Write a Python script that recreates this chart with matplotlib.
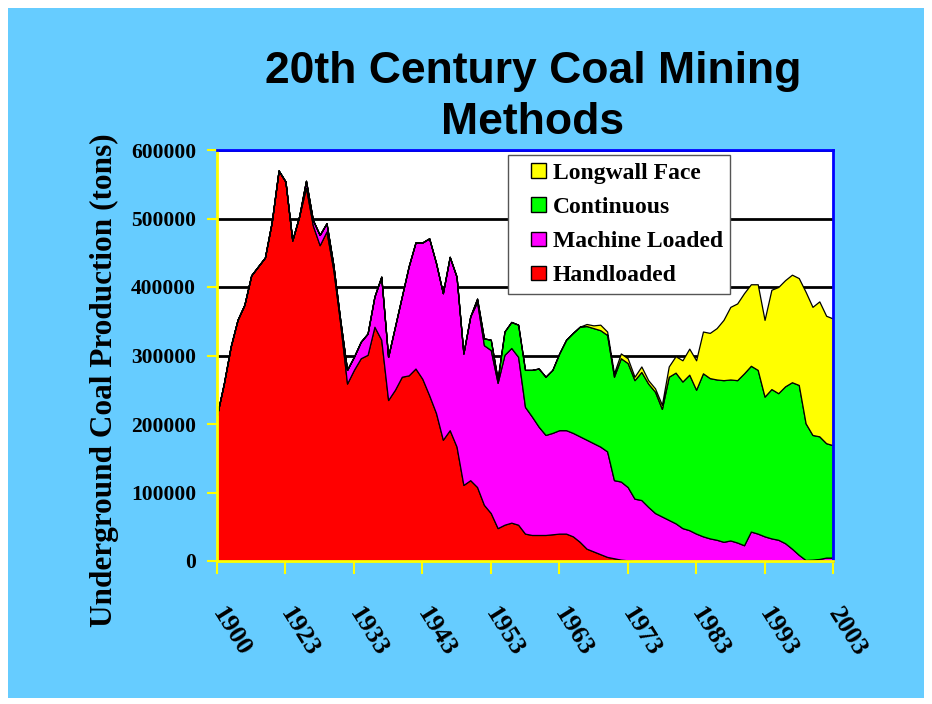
import matplotlib
matplotlib.use("Agg")
import matplotlib.pyplot as plt
from matplotlib.patches import Rectangle, Patch
from matplotlib.legend_handler import HandlerPatch
from matplotlib.ticker import FixedLocator, FuncFormatter

# Category labels (Excel category axis: a few early years, then annual 1923-2003)
years = ["1900", "1905", "1910", "1915", "1917", "1918", "1919", "1920", "1921", "1922"] + \
        [str(y) for y in range(1923, 2004)]

handloaded = [213000, 259000, 313000, 352000, 374000, 417000, 430000, 443000, 495000, 570000,
              554000, 468000, 503000, 545000, 490000, 461000, 481000, 425000, 347000, 259000,
              279000, 296000, 301000, 342000, 323000, 235000, 250000, 269000, 271000, 281000,
              266000, 242000, 216000, 177000, 191000, 167000, 111000, 118000, 108000, 82000,
              70000, 48000, 53000, 56000, 53000, 40000, 38000, 38000, 38000, 39000,
              40000, 40000, 36000, 28000, 18000, 14000, 10000, 6000, 4000, 2000,
              1000, 0, 0, 0, 0, 0, 0, 0, 0, 0,
              0, 0, 0, 0, 0, 0, 0, 0, 0, 0,
              0, 0, 0, 0, 0, 0, 0, 0, 0, 0, 0]

machine_loaded = [0, 0, 0, 0, 0, 0, 0, 0, 0, 0,
                  0, 0, 0, 10000, 8000, 15000, 12000, 7000, 5000, 20000,
                  19000, 24000, 31000, 44000, 92000, 63000, 92000, 117000, 159000, 184000,
                  199000, 229000, 219000, 214000, 253000, 248000, 192000, 239000, 270000, 233000,
                  238000, 212000, 248000, 255000, 245000, 185000, 173000, 158000, 146000, 148000,
                  151000, 151000, 151000, 154000, 159000, 158000, 157000, 154000, 114000, 114000,
                  107000, 91000, 89000, 79000, 70000, 65000, 60000, 55000, 48000, 45000,
                  40000, 36000, 33000, 31000, 28000, 30000, 27000, 23000, 43000, 40000,
                  36000, 33000, 31000, 26000, 18000, 9000, 1500, 2000, 3000, 5000, 5000]

continuous = [0, 0, 0, 0, 0, 0, 0, 0, 0, 0,
              0, 0, 0, 0, 0, 0, 0, 0, 0, 0,
              0, 0, 0, 0, 0, 0, 0, 0, 0, 0,
              0, 0, 0, 0, 0, 0, 0, 0, 5000, 10000,
              15000, 5000, 34000, 38000, 47000, 54000, 68000, 85000, 85000, 92000,
              112000, 132000, 146000, 160000, 166000, 168000, 170000, 170000, 151000, 180000,
              181000, 173000, 187000, 180000, 177000, 157000, 209000, 220000, 214000, 227000,
              210000, 238000, 234000, 234000, 236000, 235000, 237000, 251000, 242000, 239000,
              204000, 218000, 214000, 229000, 243000, 248000, 199500, 182000, 179000, 167000, 164000]

longwall = [0, 0, 0, 0, 0, 0, 0, 0, 0, 0,
            0, 0, 0, 0, 0, 0, 0, 0, 0, 0,
            0, 0, 0, 0, 0, 0, 0, 0, 0, 0,
            0, 0, 0, 0, 0, 0, 0, 0, 0, 0,
            0, 0, 0, 0, 0, 0, 0, 0, 0, 0,
            0, 0, 0, 0, 3000, 4000, 8000, 5000, 5000, 7000,
            7000, 5000, 8000, 5000, 5000, 6000, 15000, 24000, 31000, 38000,
            43000, 61000, 66000, 75000, 88000, 106000, 112000, 117000, 119000, 125000,
            112000, 145000, 155000, 155000, 157000, 156000, 192000, 187000, 197000, 186000, 185000]

series_names = ["Handloaded", "Machine Loaded", "Continuous", "Longwall Face"]
series_colors = ["#FF0000", "#FF00FF", "#00FF00", "#FFFF00"]
y_ticks = [0, 100000, 200000, 300000, 400000, 500000, 600000]

W, H = 932, 704
fig = plt.figure(figsize=(W / 100, H / 100), dpi=100)
fig.patch.set_facecolor("white")
# light-blue slide background with a thin white margin
fig.patches.append(Rectangle((8 / W, 6 / H), (W - 16) / W, (H - 14) / H,
                             transform=fig.transFigure, facecolor="#66CCFF",
                             edgecolor="none", zorder=-10))

ax = fig.add_axes([217 / W, 1 - 561 / H, (833 - 217) / W, (561 - 150) / H])
ax.set_facecolor("white")

x = list(range(len(years)))
ax.stackplot(x, handloaded, machine_loaded, continuous, longwall,
             colors=series_colors, edgecolor="black", linewidth=0.9, zorder=3)

ax.set_xlim(0, len(years) - 1)
ax.set_ylim(0, 600000)

ax.set_axisbelow(True)
ax.yaxis.set_major_locator(FixedLocator(y_ticks))
ax.yaxis.set_major_formatter(FuncFormatter(lambda v, p: f"{int(v)}"))
ax.yaxis.grid(True, color="black", linewidth=2)

tick_idx = list(range(0, len(years), 10))
ax.set_xticks(tick_idx)
ax.set_xticklabels([years[i] for i in tick_idx])

serif = "Liberation Serif"
for lab in ax.get_yticklabels():
    lab.set_fontfamily(serif)
    lab.set_fontweight("bold")
    lab.set_fontsize(15.5)
for lab in ax.get_xticklabels():
    lab.set_fontfamily(serif)
    lab.set_fontweight("bold")
    lab.set_fontsize(19)
    lab.set_rotation(-58)
    lab.set_rotation_mode("anchor")
    lab.set_ha("left")
    lab.set_va("center")

ax.tick_params(axis="y", length=7, width=1.5, color="#FFFF00", pad=8)
ax.tick_params(axis="x", length=9, width=1.5, color="#FFFF00", pad=26)

ax.spines["left"].set_color("#FFFF00")
ax.spines["bottom"].set_color("#FFFF00")
ax.spines["top"].set_color("#0000FF")
ax.spines["right"].set_color("#0000FF")
for s in ax.spines.values():
    s.set_linewidth(2)
    s.set_zorder(5)

fig.text(104 / W, 1 - 380 / H, "Underground Coal Production (tons)", rotation=90,
         ha="center", va="center", fontfamily=serif, fontweight="bold", fontsize=22.5)

fig.text(533 / W, 1 - 97 / H, "20th Century Coal Mining\nMethods", ha="center", va="center",
         fontfamily="Liberation Sans", fontweight="bold", fontsize=32, linespacing=1.32)


def square_patch(legend, orig_handle, xdescent, ydescent, width, height, fontsize):
    side = 10.5
    return Rectangle((width - side - xdescent, (height - side) / 2 - ydescent), side, side)


handles = [Patch(facecolor=series_colors[i], edgecolor="black", linewidth=1,
                 label=series_names[i]) for i in [3, 2, 1, 0]]
leg = ax.legend(handles=handles, loc="upper left",
                bbox_to_anchor=((508 - 217) / 616, 1 - (155 - 150) / 411),
                borderaxespad=0,
                handler_map={Patch: HandlerPatch(patch_func=square_patch)},
                frameon=True, fancybox=False, edgecolor="#555555", framealpha=1,
                prop={"family": serif, "weight": "bold", "size": 17},
                handlelength=1.3, handleheight=0.7, handletextpad=0.3, labelspacing=0.54,
                borderpad=0.3)
leg.set_zorder(10)
leg.get_frame().set_linewidth(1)

fig.savefig("out.png", dpi=100, facecolor=fig.get_facecolor())
